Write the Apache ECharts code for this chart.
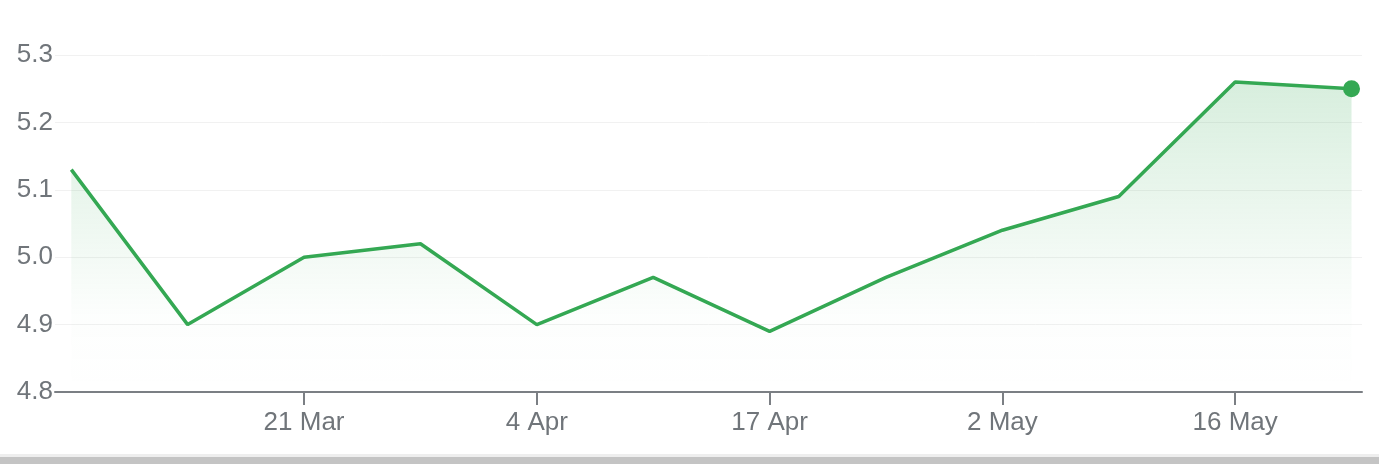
<!DOCTYPE html>
<html><head><meta charset="utf-8">
<script src="https://cdn.jsdelivr.net/npm/echarts@6/dist/echarts.min.js"></script>
<style>html,body{margin:0;padding:0;background:#fff}#c{width:1379px;height:464px}</style>
</head><body><div id="c"></div>
<script>
const dates = ['7 Mar','14 Mar','21 Mar','28 Mar','4 Apr','11 Apr','17 Apr','25 Apr','2 May','9 May','16 May','23 May'];
const values = [5.13, 4.90, 5.00, 5.02, 4.90, 4.97, 4.89, 4.97, 5.04, 5.09, 5.26, 5.25];
const tickIdx = [2, 4, 6, 8, 10];
const tickLabels = ['21 Mar','4 Apr','17 Apr','2 May','16 May'];
const yTicks = [4.8, 4.9, 5.0, 5.1, 5.2, 5.3];

const chart = echarts.init(document.getElementById('c'));
const font = '"Liberation Sans", Arial, sans-serif';
const lineData = values.map((v,i)=>[i,v]);
chart.setOption({
  animation:false,
  grid:{left:55,right:17,top:55,bottom:72,containLabel:false},
  xAxis:{type:'value',min:-0.14,max:11.09,
    splitLine:{show:false},
    axisLine:{show:true,lineStyle:{color:'#7b7f84',width:2}},
    axisTick:{show:true,customValues:tickIdx,length:13,lineStyle:{color:'#7b7f84',width:2}},
    axisLabel:{customValues:tickIdx,margin:18,fontSize:26,color:'#70757a',fontFamily:font,
      formatter:v=>tickLabels[tickIdx.indexOf(Math.round(v))]||''}
  },
  yAxis:{type:'value',min:yTicks[0],max:yTicks[yTicks.length-1],interval:0.1,
    axisLine:{show:false},axisTick:{show:false},
    splitLine:{lineStyle:{color:'#f1f1f1',width:1}},
    axisLabel:{margin:2,fontSize:26,color:'#70757a',fontFamily:font,formatter:v=>v.toFixed(1)}
  },
  series:[{
    type:'line',data:lineData,symbol:'none',
    lineStyle:{color:'#34a853',width:3.5},
    areaStyle:{origin:'start',color:new echarts.graphic.LinearGradient(0,0,0,1,[
      {offset:0,color:'rgba(52,168,83,0.28)'},
      {offset:0.75,color:'rgba(52,168,83,0.02)'},
      {offset:1,color:'rgba(52,168,83,0)'}])}
  },{
    type:'scatter',data:[lineData[lineData.length-1]],symbol:'circle',symbolSize:17,
    itemStyle:{color:'#34a853',opacity:1},z:5
  }],
  graphic:[
    {type:'rect',left:0,top:454,shape:{width:1379,height:3},style:{fill:'#eeeeee'}},
    {type:'rect',left:0,top:457,shape:{width:1379,height:7},style:{fill:'#c4c4c4'}}
  ]
});
</script></body></html>
